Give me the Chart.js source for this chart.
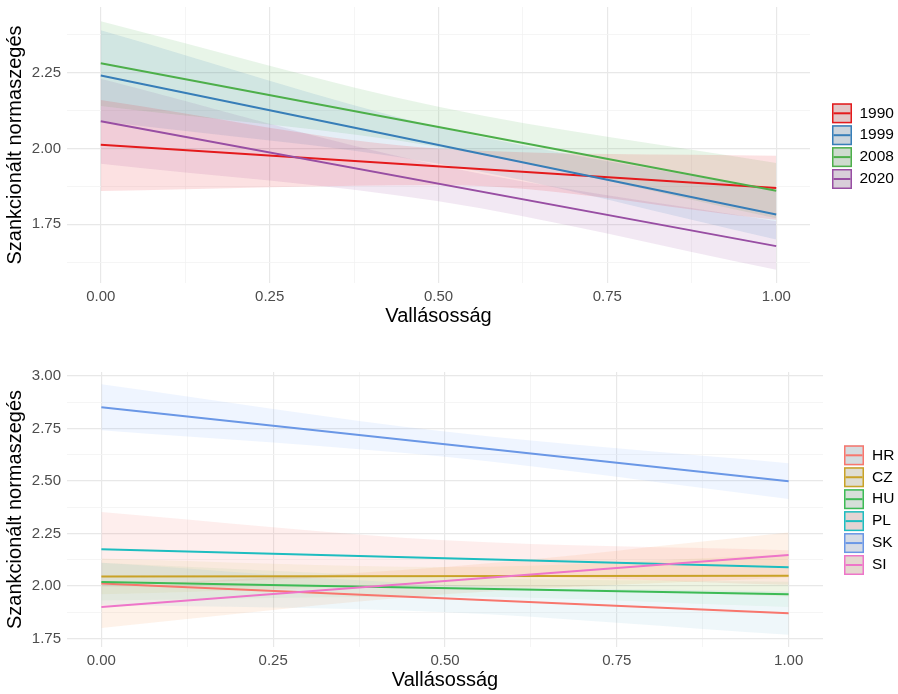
<!DOCTYPE html>
<html><head><meta charset="utf-8">
<script src="https://cdn.jsdelivr.net/npm/chart.js@4.4.1/dist/chart.umd.min.js"></script>
<style>
html,body{margin:0;padding:0;background:#fff;}
#wrap{position:relative;width:898px;height:694px;background:#fff;}
canvas{position:absolute;left:0;}
</style></head>
<body><div id="wrap">
<canvas id="c1" width="898" height="340" style="top:0"></canvas>
<canvas id="c2" width="898" height="354" style="top:340px"></canvas>
</div>
<script>
// ---------- data ----------
const xLine = [0, 1];
const xBand = [0, 0.5, 1];
const xMajor = [0, 0.25, 0.5, 0.75, 1];
const xMinor = [0.125, 0.375, 0.625, 0.875];
const xTitle = 'Vallásosság';
const yTitle = 'Szankcionált normaszegés';

// top panel (years)
const years = ['1990', '1999', '2008', '2020'];
const line1990 = [2.012, 1.870];
const line1999 = [2.241, 1.782];
const line2008 = [2.281, 1.861];
const line2020 = [2.090, 1.678];
const lo1990 = [1.86, 1.88, 1.765];
const hi1990 = [2.16, 2.00, 1.976];
const lo1999 = [2.09, 1.95, 1.70];
const hi1999 = [2.39, 2.07, 1.86];
const lo2008 = [2.14, 2.005, 1.77];
const hi2008 = [2.42, 2.138, 1.952];
const lo2020 = [1.95, 1.826, 1.60];
const hi2020 = [2.23, 1.945, 1.76];
const yMajorTop = [1.75, 2.00, 2.25];
const yMinorTop = [1.625, 1.875, 2.125, 2.375];

// bottom panel (countries)
const countries = ['HR', 'CZ', 'HU', 'PL', 'SK', 'SI'];
const lineHR = [2.011, 1.870];
const lineCZ = [2.045, 2.048];
const lineHU = [2.019, 1.960];
const linePL = [2.175, 2.089];
const lineSK = [2.851, 2.499];
const lineSI = [1.900, 2.147];
const loHR = [1.91, 1.875, 1.767];
const hiHR = [2.11, 2.005, 1.973];
const loCZ = [1.96, 2.00, 1.95];
const hiCZ = [2.13, 2.09, 2.15];
const loHU = [1.93, 1.95, 1.90];
const hiHU = [2.11, 2.04, 2.02];
const loPL = [2.00, 2.05, 2.005];
const hiPL = [2.352, 2.217, 2.17];
const loSK = [2.742, 2.615, 2.414];
const hiSK = [2.961, 2.735, 2.584];
const loSI = [1.80, 1.96, 2.04];
const hiSI = [2.00, 2.09, 2.254];
const yMajorBot = [1.75, 2.00, 2.25, 2.50, 2.75, 3.00];
const yMinorBot = [1.875, 2.125, 2.375, 2.625, 2.875];

// ---------- styles ----------
const FONT = "'Liberation Sans', Arial, sans-serif";
Chart.defaults.font.family = FONT;
const topColors = ['#E41A1C', '#377EB8', '#4DAF4A', '#984EA3'];
const topFills = ['rgba(228,26,28,0.13)', 'rgba(55,126,184,0.13)', 'rgba(77,175,74,0.13)', 'rgba(152,78,163,0.13)'];
const botColors = ['#F8766D', '#C9A227', '#3DBB55', '#1DBDC0', '#6A97E6', '#EE75C9'];
const botFills = ['rgba(80,170,200,0.09)', 'rgba(183,159,0,0.07)', 'rgba(0,186,56,0.05)',
                  'rgba(248,118,109,0.12)', 'rgba(97,156,255,0.10)', 'rgba(245,150,70,0.12)'];

const near = (v, arr) => arr.some(a => Math.abs(a - v) < 1e-6);
const pts = (xs, ys) => xs.map((x, i) => ({x: x, y: ys[i]}));

function buildDatasets(lines, los, his, colors, fills) {
  const ds = [];
  lines.forEach((ln, k) => {
    ds.push({data: pts(xLine, ln), borderColor: colors[k], borderWidth: 2, pointRadius: 0,
             fill: false, tension: 0, order: lines.length - k});
  });
  lines.forEach((ln, k) => {
    ds.push({data: pts(xBand, his[k]), borderColor: 'rgba(0,0,0,0)', borderWidth: 0, pointRadius: 0,
             backgroundColor: fills[k], fill: '+1', cubicInterpolationMode: 'monotone', order: 20});
    ds.push({data: pts(xBand, los[k]), borderColor: 'rgba(0,0,0,0)', borderWidth: 0, pointRadius: 0,
             fill: false, cubicInterpolationMode: 'monotone', order: 20});
  });
  return ds;
}

function makeScales(yMin, yMax, yMaj, yMin2, xHeight, xTitlePad) {
  const gridColor = (maj) => (c) => near(c.tick.value, maj) ? '#e8e8e8' : '#f3f3f3';
  const gridWidth = (maj) => (c) => near(c.tick.value, maj) ? 1.2 : 0.8;
  return {
    x: {
      type: 'linear', min: -0.05, max: 1.05,
      afterBuildTicks: s => { s.ticks = xMajor.concat(xMinor).sort((a, b) => a - b).map(v => ({value: v})); },
      afterFit: s => { s.height = xHeight; s.paddingLeft = 0; s.paddingRight = 0; },
      ticks: {autoSkip: false, maxRotation: 0, padding: 5, color: '#4d4d4d', font: {size: 15},
              callback: v => near(v, xMajor) ? v.toFixed(2) : ''},
      grid: {drawTicks: false, color: gridColor(xMajor), lineWidth: gridWidth(xMajor)},
      border: {display: false},
      title: {display: true, text: xTitle, color: '#000', font: {size: 20}, padding: {top: 0, bottom: xTitlePad}}
    },
    y: {
      type: 'linear', min: yMin, max: yMax,
      afterBuildTicks: s => { s.ticks = yMaj.concat(yMin2).sort((a, b) => a - b).map(v => ({value: v})); },
      afterFit: s => { s.width = 67; s.paddingTop = 0; s.paddingBottom = 0; },
      ticks: {autoSkip: false, padding: 6, color: '#4d4d4d', font: {size: 15},
              callback: v => near(v, yMaj) ? v.toFixed(2) : ''},
      grid: {drawTicks: false, color: gridColor(yMaj), lineWidth: gridWidth(yMaj)},
      border: {display: false},
      title: {display: true, text: yTitle, color: '#000', font: {size: 20}, padding: {top: 3, bottom: 0}}
    }
  };
}

function legendPlugin(labels, colors, fills, x, top, step, textX) {
  return {
    id: 'keyLegend',
    afterDraw(chart) {
      const ctx = chart.ctx, size = 20;
      ctx.save();
      labels.forEach((lab, i) => {
        const y = top + i * step;
        ctx.fillStyle = '#e2e2e2';
        ctx.fillRect(x, y, size, size);
        ctx.fillStyle = fills[i];
        ctx.fillRect(x, y, size, size);
        ctx.strokeStyle = colors[i];
        ctx.lineWidth = 1.5;
        ctx.strokeRect(x + 0.75, y + 0.75, size - 1.5, size - 1.5);
        ctx.beginPath();
        ctx.moveTo(x + 1.5, y + size / 2);
        ctx.lineTo(x + size - 1.5, y + size / 2);
        ctx.lineWidth = 2;
        ctx.stroke();
        ctx.fillStyle = '#000';
        ctx.font = '15.5px ' + FONT;
        ctx.textBaseline = 'middle';
        ctx.textAlign = 'left';
        ctx.fillText(lab, textX, y + size / 2);
      });
      ctx.restore();
    }
  };
}

const common = {responsive: false, animation: false, events: [],
                plugins: {legend: {display: false}, tooltip: {enabled: false}}};

new Chart(document.getElementById('c1'), {
  type: 'line',
  data: {datasets: buildDatasets([line1990, line1999, line2008, line2020],
                                  [lo1990, lo1999, lo2008, lo2020],
                                  [hi1990, hi1999, hi2008, hi2020], topColors, topFills)},
  options: Object.assign({}, common, {
    layout: {padding: {left: 0, right: 88, top: 7, bottom: 0}},
    scales: makeScales(1.5564, 2.4667, yMajorTop, yMinorTop, 57, 11.6)
  }),
  plugins: [legendPlugin(years, topColors, topFills, 832, 103.3, 21.9, 859.5)]
});

new Chart(document.getElementById('c2'), {
  type: 'line',
  data: {datasets: buildDatasets([lineHR, lineCZ, lineHU, linePL, lineSK, lineSI],
                                  [loHR, loCZ, loHU, loPL, loSK, loSI],
                                  [hiHR, hiCZ, hiHU, hiPL, hiSK, hiSI], botColors, botFills)},
  options: Object.assign({}, common, {
    layout: {padding: {left: 0, right: 75, top: 32, bottom: 0}},
    scales: makeScales(1.709, 3.019, yMajorBot, yMinorBot, 47, 1.6)
  }),
  plugins: [legendPlugin(countries, botColors, botFills, 844, 105.3, 21.94, 872)]
});
</script>
</body></html>
